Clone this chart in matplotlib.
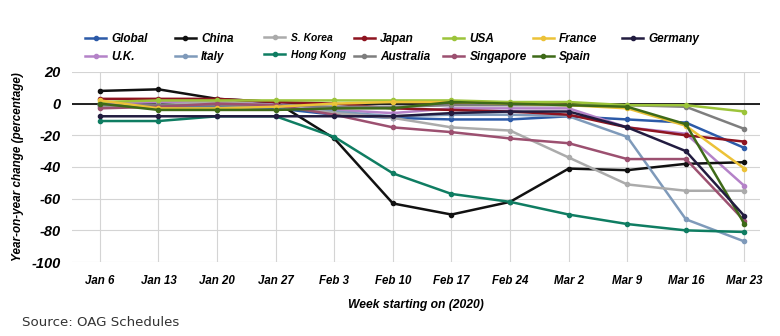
import numpy as np
import matplotlib
matplotlib.use("Agg")
import matplotlib.pyplot as plt

plt.rcParams["font.family"] = ["Liberation Sans", "DejaVu Sans"]

weeks = ["Jan 6", "Jan 13", "Jan 20", "Jan 27", "Feb 3", "Feb 10",
         "Feb 17", "Feb 24", "Mar 2", "Mar 9", "Mar 16", "Mar 23"]

# year-on-year change in scheduled flight capacity (%)
global_ = [-1, -2, -2, -3, -7, -9, -10, -10, -8, -10, -12, -28]
china = [8, 9, 3, 1, -22, -63, -70, -62, -41, -42, -38, -37]
s_korea = [-2, -1, 1, -1, -6, -9, -15, -17, -34, -51, -55, -55]
japan = [3, 3, 3, 1, 0, -3, -4, -5, -7, -15, -20, -24]
usa = [1, 2, 2, 2, 2, 2, 2, 1, 1, -1, -1, -5]
france = [2, -3, -3, -2, 0, 1, 1, 0, -1, -3, -14, -41]
germany = [-8, -8, -8, -8, -8, -8, -6, -5, -5, -15, -30, -71]
uk = [0, 1, 1, 0, -4, -6, -3, -3, -3, -15, -19, -52]
italy = [-1, -1, -1, -2, -5, -8, -7, -7, -8, -21, -73, -87]
hong_kong = [-11, -11, -8, -8, -21, -44, -57, -62, -70, -76, -80, -81]
australia = [-1, -1, -1, -1, -2, -2, -1, -1, -1, -1, -2, -16]
singapore = [-3, -2, 0, -1, -7, -15, -18, -22, -25, -35, -35, -74]
spain = [0, -4, -4, -4, -3, -3, 1, 0, -1, -2, -13, -76]

# pairs (top row, bottom row) for each legend column
series = [
    ("Global", global_, "#2c5aa8"),
    ("U.K.", uk, "#b482c8"),
    ("China", china, "#111111"),
    ("Italy", italy, "#7f9aba"),
    ("S. Korea", s_korea, "#ababab"),
    ("Hong Kong", hong_kong, "#0f7d62"),
    ("Japan", japan, "#8e1420"),
    ("Australia", australia, "#7e7e7e"),
    ("USA", usa, "#9cc43a"),
    ("Singapore", singapore, "#9c5070"),
    ("France", france, "#ecc238"),
    ("Spain", spain, "#3e6a18"),
    ("Germany", germany, "#221c40"),
]
small_labels = ["S. Korea", "Hong Kong"]

fig = plt.figure(figsize=(7.8, 3.36), dpi=100)
ax = fig.add_axes([0.092, 0.22, 0.882, 0.566])

x = np.arange(len(weeks))
lines = []
for name, vals, col in series:
    ln, = ax.plot(x, vals, color=col, lw=1.8, marker="o", ms=3, label=name)
    lines.append(ln)

ax.axhline(0, color="#111111", lw=1.3, zorder=1)

ax.set_xlim(-0.48, 11.26)
ax.set_ylim(-100, 20)
ax.set_xticks(x)
ax.set_xticklabels(weeks, fontsize=8.3, fontweight="bold", style="italic")
ax.set_yticks(np.arange(-100, 21, 20))
ax.set_yticklabels([str(v) for v in range(-100, 21, 20)], fontsize=10.5,
                   fontweight="bold", style="italic")
ax.tick_params(axis="x", length=0, pad=9)
ax.tick_params(axis="y", length=0, pad=8)
ax.grid(True, color="#d4d4d4", lw=0.8)
ax.set_axisbelow(True)
for s in ax.spines.values():
    s.set_visible(False)

ax.set_ylabel("Year-on-year change (percentage)", fontsize=8.5,
              fontweight="bold", style="italic", labelpad=5)
ax.set_xlabel("Week starting on (2020)", fontsize=8.7, fontweight="bold",
              style="italic", labelpad=9)

# evenly spaced legend columns
for i in range(7):
    hs = lines[2 * i:2 * i + 2]
    leg = fig.legend(hs, [h.get_label() for h in hs], loc="upper left",
                     bbox_to_anchor=((85 + i * 89.5) / 780, 0.902),
                     frameon=False, handlelength=1.8, handletextpad=0.45,
                     labelspacing=0.55, borderaxespad=0, borderpad=0,
                     prop={"size": 8.5, "weight": "bold", "style": "italic"})
    for t in leg.get_texts():
        if t.get_text() in small_labels:
            t.set_fontsize(7.4)

fig.text(0.028, 0.03, "Source: OAG Schedules", fontsize=9.6,
         color="#333333", family="DejaVu Sans")

fig.savefig("out.png", dpi=100)
